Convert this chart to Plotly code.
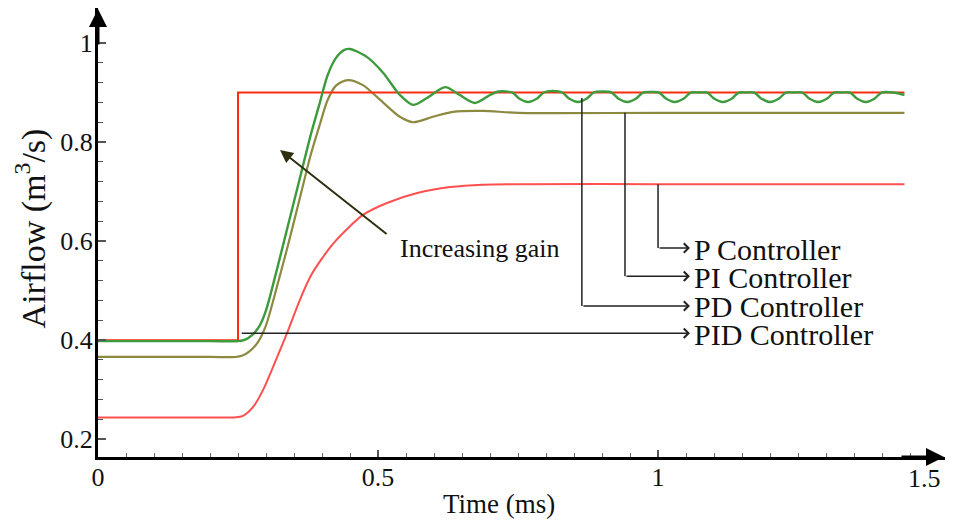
import plotly.graph_objects as go

# ---------------- data ----------------
t_pid = [0.0, 0.25, 0.25, 1.44]
v_pid = [0.40, 0.40, 0.90, 0.90]

t_p = [0.0, 0.20, 0.245, 0.259, 0.277, 0.295, 0.32, 0.3375, 0.36, 0.38, 0.40, 0.42, 0.45, 0.473,
       0.516, 0.57, 0.629, 0.6875, 0.75, 1.0, 1.44]
v_p = [0.244, 0.244, 0.244, 0.247, 0.265, 0.30, 0.366, 0.414, 0.48, 0.53, 0.565, 0.595, 0.63, 0.653,
       0.677, 0.697, 0.709, 0.714, 0.715, 0.715, 0.715]

t_pi = [0.0, 0.20, 0.245, 0.258, 0.271, 0.285, 0.30, 0.32, 0.34, 0.36, 0.38, 0.396, 0.41, 0.425, 0.446,
        0.473, 0.504, 0.539, 0.5625, 0.598, 0.634, 0.6875, 0.75, 1.0, 1.44]
v_pi = [0.366, 0.366, 0.366, 0.369, 0.378, 0.395, 0.43, 0.51, 0.595, 0.685, 0.775, 0.835, 0.885, 0.914, 0.925,
        0.915, 0.885, 0.851, 0.840, 0.851, 0.861, 0.863, 0.859, 0.859, 0.859]

t_pd = [0.0, 0.20, 0.25, 0.263, 0.275, 0.289, 0.30, 0.32, 0.34, 0.36, 0.38, 0.395, 0.41, 0.425, 0.44, 0.45,
        0.48, 0.509, 0.539, 0.5625, 0.5875, 0.62, 0.646, 0.673, 0.70, 0.715, 0.74,
        0.752, 0.768, 0.784, 0.796, 0.812, 0.829, 0.841, 0.857, 0.873, 0.885, 0.90,
        0.917, 0.929, 0.945, 0.961, 0.973, 0.988, 1.002, 1.014, 1.030, 1.046, 1.058,
        1.073, 1.088, 1.100, 1.116, 1.132, 1.144, 1.158, 1.172, 1.184, 1.200, 1.216,
        1.228, 1.243, 1.258, 1.270, 1.286, 1.302, 1.314, 1.329, 1.343, 1.355, 1.371,
        1.387, 1.399, 1.42, 1.44]
v_pd = [0.398, 0.398, 0.398, 0.401, 0.41, 0.43, 0.46, 0.545, 0.635, 0.725, 0.815, 0.875, 0.935, 0.97, 0.986, 0.988,
        0.972, 0.94, 0.895, 0.875, 0.889, 0.911, 0.895, 0.879, 0.895, 0.902, 0.90,
        0.888, 0.881, 0.888, 0.90, 0.903, 0.90, 0.888, 0.881, 0.888, 0.90, 0.902,
        0.90, 0.888, 0.881, 0.888, 0.90, 0.901, 0.90, 0.888, 0.881, 0.888, 0.90,
        0.90, 0.90, 0.888, 0.881, 0.888, 0.90, 0.90, 0.90, 0.888, 0.881, 0.888,
        0.90, 0.90, 0.90, 0.888, 0.881, 0.888, 0.90, 0.90, 0.90, 0.888, 0.881,
        0.888, 0.90, 0.90, 0.895]

x_ticks = [0, 0.5, 1, 1.5]
x_tick_text = ["0", "0.5", "1", "1.5"]
x_minor = [0.05, 0.1, 0.15, 0.2, 0.25, 0.3, 0.35, 0.4, 0.45, 0.55, 0.6, 0.65, 0.7, 0.75,
           0.8, 0.85, 0.9, 0.95, 1.05, 1.1, 1.15, 1.2, 1.25, 1.3, 1.35, 1.4, 1.45]
y_ticks = [0.2, 0.4, 0.6, 0.8, 1.0]
y_tick_text = ["0.2", "0.4", "0.6", "0.8", "1"]
y_minor = [0.24, 0.28, 0.32, 0.36, 0.44, 0.48, 0.52, 0.56, 0.64, 0.68, 0.72, 0.76,
           0.84, 0.88, 0.92, 0.96]

labels = ["P Controller", "PI Controller", "PD Controller", "PID Controller"]

FONT = "Liberation Serif"
TXT = "#111111"

fig = go.Figure()
fig.add_trace(go.Scatter(x=t_p, y=v_p, mode="lines", line=dict(color="#ff5050", width=2, shape="spline", smoothing=0.8)))
fig.add_trace(go.Scatter(x=t_pi, y=v_pi, mode="lines", line=dict(color="#8c8a40", width=2.2, shape="spline", smoothing=0.8)))
fig.add_trace(go.Scatter(x=t_pid, y=v_pid, mode="lines", line=dict(color="#ff2d10", width=2)))
fig.add_trace(go.Scatter(x=t_pd, y=v_pd, mode="lines", line=dict(color="#3d9b3d", width=2.4, shape="spline", smoothing=0.8)))

LC = "#222222"
shapes = []
annotations = []
pointers = [
    (1.0, 0.715, 0.586),
    (0.941, 0.859, 0.529),
    (0.864, 0.889, 0.469),
]
for (px, y0, y1) in pointers:
    shapes.append(dict(type="line", xref="x", yref="y", x0=px, x1=px, y0=y0, y1=y1,
                       line=dict(color=LC, width=1.5)))
    annotations.append(dict(x=1.057, y=y1, ax=px, ay=y1, xref="x", yref="y", axref="x", ayref="y",
                            showarrow=True, arrowhead=4, arrowsize=1.3, arrowwidth=1.4,
                            arrowcolor=LC, text=""))
annotations.append(dict(x=1.057, y=0.414, ax=0.254, ay=0.414, xref="x", yref="y", axref="x", ayref="y",
                        showarrow=True, arrowhead=4, arrowsize=1.3, arrowwidth=1.4,
                        arrowcolor=LC, text=""))
for lab, yy in zip(labels, [0.584, 0.527, 0.467, 0.412]):
    annotations.append(dict(x=1.060, y=yy, xref="x", yref="y", text=lab, showarrow=False,
                            xanchor="left", yanchor="middle",
                            font=dict(family=FONT, size=30, color=TXT)))

annotations.append(dict(x=0.325, y=0.784, ax=0.518, ay=0.612, xref="x", yref="y", axref="x", ayref="y",
                        showarrow=True, arrowhead=2, arrowsize=1.3, arrowwidth=2,
                        arrowcolor="#2e2e10", text=""))
annotations.append(dict(x=0.536, y=0.586, xref="x", yref="y", text="Increasing gain", showarrow=False,
                        xanchor="left", yanchor="middle",
                        font=dict(family=FONT, size=26, color=TXT)))

# last x tick label sits next to the axis arrow, right-aligned so it stays inside the page
annotations.append(dict(x=x_ticks[-1], y=-0.047, xref="x", yref="paper", text=x_tick_text[-1],
                        showarrow=False, xanchor="right", yanchor="middle", xshift=5,
                        font=dict(family=FONT, size=26, color=TXT)))

# axis arrows
annotations.append(dict(x=0, y=1.0, ax=0, ay=38, xref="paper", yref="paper", axref="pixel", ayref="pixel",
                        showarrow=True, arrowhead=2, arrowsize=1.2, arrowwidth=3, arrowcolor="black", text=""))
annotations.append(dict(x=1.0, y=0, ax=-45, ay=0, xref="paper", yref="paper", axref="pixel", ayref="pixel",
                        showarrow=True, arrowhead=2, arrowsize=1.2, arrowwidth=3, arrowcolor="black", text=""))

annotations.append(dict(x=-0.0798, y=0.51, xref="paper", yref="paper", text="Airflow (m<sup>3</sup>/s)",
                        showarrow=False, textangle=-90, xanchor="center", yanchor="middle",
                        font=dict(family=FONT, size=34, color=TXT)))
annotations.append(dict(x=0.473, y=-0.104, xref="paper", yref="paper", text="Time (ms)",
                        showarrow=False, xanchor="center", yanchor="middle",
                        font=dict(family=FONT, size=27, color=TXT)))

# the page body adds an 8px offset; the figure is sized so that it fits without overflow
fig.update_layout(
    width=937, height=512,
    margin=dict(l=90, r=0, t=0, b=63),
    paper_bgcolor="white", plot_bgcolor="white",
    showlegend=False,
    shapes=shapes, annotations=annotations,
    font=dict(family=FONT, size=26, color=TXT),
)
fig.update_xaxes(range=[0, 1.5124], automargin=False, showgrid=False, zeroline=False, showline=True,
                 linecolor="black", linewidth=3, tickmode="array", tickvals=x_ticks[:-1], ticktext=x_tick_text[:-1],
                 ticks="inside", ticklen=7, tickwidth=1.5, tickcolor="#555", ticklabelstandoff=-5,
                 minor=dict(tickmode="array", tickvals=x_minor, ticks="inside", ticklen=4, tickwidth=1.2, tickcolor="#666"),
                 tickfont=dict(family=FONT, size=26, color=TXT))
fig.update_yaxes(range=[0.164, 1.0707], automargin=False, showgrid=False, zeroline=False, showline=True,
                 linecolor="black", linewidth=3, tickmode="array", tickvals=y_ticks, ticktext=y_tick_text,
                 ticks="inside", ticklen=8, tickwidth=1.5, tickcolor="#555", ticklabelstandoff=-3,
                 minor=dict(tickmode="array", tickvals=y_minor, ticks="inside", ticklen=5, tickwidth=1.2, tickcolor="#555"),
                 tickfont=dict(family=FONT, size=26, color=TXT))

fig.write_html("out.html")
